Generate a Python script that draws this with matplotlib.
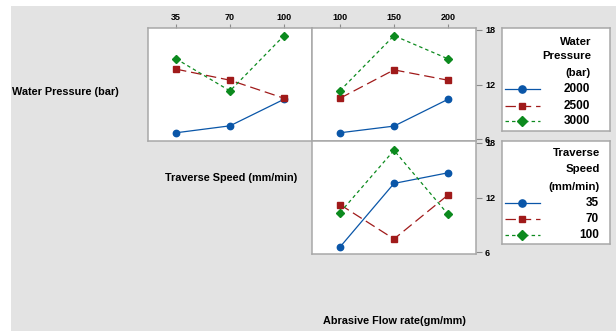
import matplotlib
matplotlib.use('Agg')
import matplotlib.pyplot as plt
from matplotlib.patches import Rectangle

plt.rcParams['font.family'] = ['Liberation Sans', 'DejaVu Sans']
plt.rcParams['lines.scale_dashes'] = False

# ---------------- data ----------------
speed_levels = [35, 70, 100]          # Traverse Speed (mm/min)
flow_levels = [100, 150, 200]         # Abrasive Flow rate (gm/mm)
pressure_levels = [2000, 2500, 3000]  # Water Pressure (bar)

# top-left panel: traces = water pressure, x = traverse speed
wp2000_vs_speed = [6.72, 7.48, 10.38]
wp2500_vs_speed = [13.68, 12.47, 10.50]
wp3000_vs_speed = [14.81, 11.30, 17.34]

# top-right panel: traces = water pressure, x = abrasive flow rate
wp2000_vs_flow = [6.72, 7.45, 10.38]
wp2500_vs_flow = [10.50, 13.60, 12.47]
wp3000_vs_flow = [11.33, 17.34, 14.81]

# bottom-right panel: traces = traverse speed, x = abrasive flow rate
ts35_vs_flow = [6.59, 13.54, 14.70]
ts70_vs_flow = [11.22, 7.46, 12.27]
ts100_vs_flow = [10.35, 17.16, 10.17]

y_ticks = [6, 12, 18]

# ---------------- style ----------------
W, H = 616, 331
BLUE, RED, GREEN = '#0a56a8', '#a01a1a', '#0c8a1e'
styles = [
    dict(color=BLUE, marker='o', markersize=4.6, linestyle='-', linewidth=0.9),
    dict(color=RED, marker='s', markersize=4.4, linestyle=(0, (7.5, 3.5)), linewidth=0.9),
    dict(color=GREEN, marker='D', markersize=4.4, linestyle=(0, (2.5, 2.2)), linewidth=0.9),
]
SPINE = '#a8a8a8'
TICKC = '#8c8c8c'


def box(x0, y0, x1, y1):
    return [x0 / W, 1 - y1 / H, (x1 - x0) / W, (y1 - y0) / H]


fig = plt.figure(figsize=(W / 100, H / 100), dpi=100, facecolor='white')
fig.add_artist(Rectangle((11 / W, 0), 1 - 11 / W, 1 - 6 / H,
                         transform=fig.transFigure, facecolor='#e3e3e3',
                         edgecolor='none', zorder=-10))


def make_panel(rect, levels, series, top_ticks, right_ticks):
    ax = fig.add_axes(box(*rect))
    ax.set_facecolor('white')
    xs = list(range(len(levels)))
    for vals, st in zip(series, styles):
        ax.plot(xs, vals, **st)
    ax.set_xlim(-0.52, len(levels) - 1 + 0.52)
    ax.set_ylim(5.82, 18.18)
    for s in ax.spines.values():
        s.set_color(SPINE)
        s.set_linewidth(1.1)
    ax.set_xticks(xs)
    ax.set_xticklabels([str(v) for v in levels])
    ax.set_yticks(y_ticks)
    ax.set_yticklabels([str(v) for v in y_ticks])
    ax.tick_params(axis='x', which='both', bottom=False, labelbottom=False,
                   top=top_ticks, labeltop=top_ticks, direction='out',
                   length=3, width=0.8, color=TICKC, labelsize=6.5, pad=1.5)
    ax.tick_params(axis='y', which='both', left=False, labelleft=False,
                   right=right_ticks, labelright=right_ticks, direction='out',
                   length=4, width=0.8, color=TICKC, labelsize=6.5, pad=2.5)
    for lab in ax.get_xticklabels() + ax.get_yticklabels():
        lab.set_fontweight('bold')
    return ax


ax1 = make_panel((148, 28, 312, 141), speed_levels,
                 [wp2000_vs_speed, wp2500_vs_speed, wp3000_vs_speed], True, False)
ax2 = make_panel((312, 28, 476, 141), flow_levels,
                 [wp2000_vs_flow, wp2500_vs_flow, wp3000_vs_flow], True, True)
ax3 = make_panel((312, 141, 476, 254), flow_levels,
                 [ts35_vs_flow, ts70_vs_flow, ts100_vs_flow], False, True)


def make_legend(rect, title_lines, title_ys, title_right, labels, entry_ys, label_right):
    x0, y0, x1, y1 = rect
    lg = fig.add_axes(box(*rect))
    lg.set_facecolor('white')
    lg.set_xlim(0, x1 - x0)
    lg.set_ylim(y1 - y0, 0)
    lg.set_xticks([])
    lg.set_yticks([])
    for s in lg.spines.values():
        s.set_color(SPINE)
        s.set_linewidth(1.1)
    for t, ty in zip(title_lines, title_ys):
        lg.text(title_right, ty, t, ha='right', va='center', fontsize=8.2,
                fontweight='bold')
    for lab, ey, st in zip(labels, entry_ys, styles):
        lg.plot([3, 38], [ey, ey], color=st['color'], linestyle=st['linestyle'],
                linewidth=st['linewidth'])
        lg.plot([20], [ey], color=st['color'], marker=st['marker'],
                markersize=st['markersize'] + 0.6, linestyle='none')
        lg.text(label_right, ey, str(lab), ha='right', va='center', fontsize=8.5,
                fontweight='bold')
    return lg


make_legend((502, 28, 610, 131), ['Water', 'Pressure', '(bar)'], [13.7, 28, 44.7], 89,
            pressure_levels, [61, 78, 93], 88)
make_legend((502, 141, 610, 244), ['Traverse', 'Speed', '(mm/min)'], [12.3, 28.3, 45.7], 98,
            speed_levels, [62.3, 78, 94], 97)

# factor labels
fig.text(12 / W, 1 - 92 / H, 'Water Pressure (bar)', ha='left', va='center',
         fontsize=7.8, fontweight='bold')
fig.text(297 / W, 1 - 178 / H, 'Traverse Speed (mm/min)', ha='right', va='center',
         fontsize=7.8, fontweight='bold')
fig.text(394.5 / W, 1 - 321.5 / H, 'Abrasive Flow rate(gm/mm)', ha='center', va='center',
         fontsize=7.8, fontweight='bold')

fig.savefig('out.png', dpi=100, facecolor=fig.get_facecolor())
